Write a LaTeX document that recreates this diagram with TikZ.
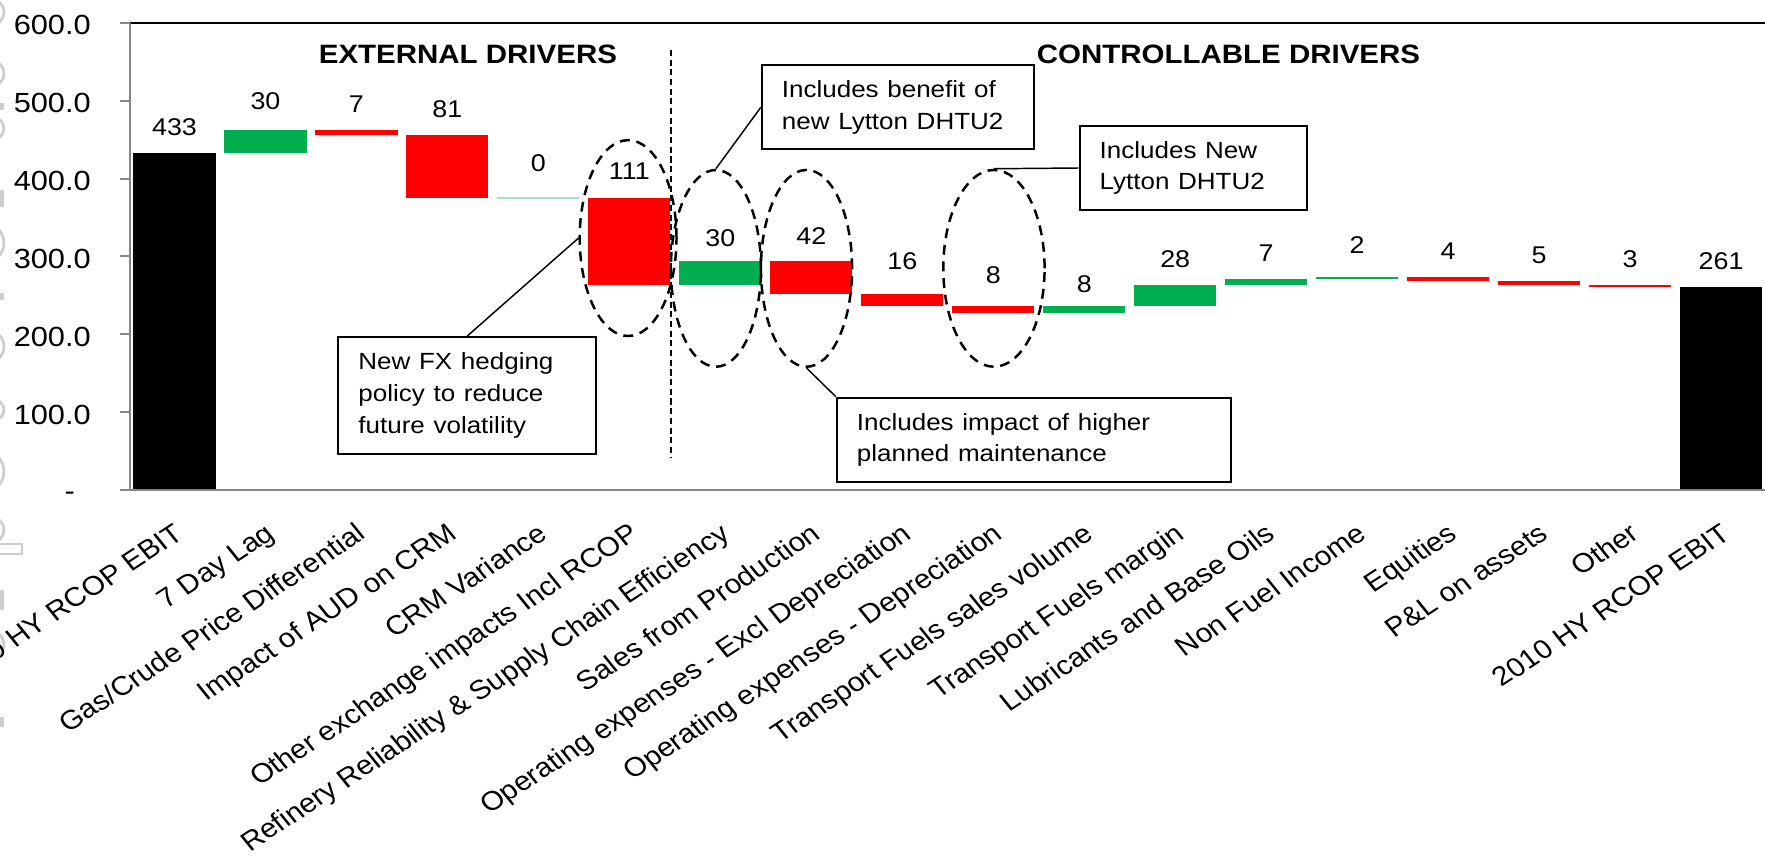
\documentclass[tikz,border=0pt]{standalone}
\usepackage{fontspec}
\setmainfont{Liberation Sans}
\usetikzlibrary{shapes.geometric}
\definecolor{xlgreen}{RGB}{0,176,80}
\definecolor{xlred}{RGB}{255,0,0}
\definecolor{axisgray}{RGB}{134,134,134}
\definecolor{wmgray}{RGB}{205,205,205}
\tikzset{
  ticklab/.style={font=\fontsize{12.3}{14}\selectfont, inner sep=0pt, xscale=1.11, anchor=base east},
  datalab/.style={font=\fontsize{10.75}{13}\selectfont, inner sep=0pt, xscale=1.11, anchor=base},
  catlab/.style={font=\fontsize{11.9}{14}\selectfont, inner sep=0pt, anchor=base east, xscale=1.11, rotate=36},
  headlab/.style={font=\bfseries\fontsize{11.8}{14}\selectfont, inner sep=0pt, xscale=1.11, anchor=base west},
  notebox/.style={draw, line width=0.9pt, align=left, inner xsep=8pt, inner ysep=0pt,
     font=\fontsize{10.4}{14.1}\selectfont, xscale=1.11, anchor=north west},
  hl/.style={draw, ellipse, inner sep=0pt, line width=1.1pt, dash pattern=on 4.4pt off 3pt},
  conn/.style={draw, line width=0.65pt},
  wm/.style={draw=wmgray, line width=1.2pt},
}
\begin{document}
\begin{tikzpicture}[x=0.5pt,y=-0.5pt]
\useasboundingbox (0,0) rectangle (1568,759.6);

% faint watermark fragments at the left edge
\foreach \cy/\r in {10.7/12, 65.3/12, 114.2/10, 215.9/17.8, 307.8/14.7, 364/9, 418.9/19, 470.8/11.5, 573/13}
  \draw[wm] ({3.5-\r},\cy) circle[radius=\r*0.5pt];
\foreach \ya/\yb in {91.5/97.7, 168.8/183.9, 260.3/266.5, 524/542, 637/646}
  \fill[wmgray] (0,\ya) rectangle (3.5,\yb);
\draw[wm] (-2,483.3) rectangle (19.5,492.1);

% bars
\foreach \i/\a/\b/\c in {0/0/433/black, 1/433/463/xlgreen, 2/456/463/xlred, 3/375/456/xlred,
   5/264/375/xlred, 6/264/294/xlgreen, 7/252/294/xlred, 8/236/252/xlred, 9/228/236/xlred,
   10/228/236/xlgreen, 11/236/264/xlgreen, 12/264/271/xlgreen, 13/271/273/xlgreen,
   14/269/273/xlred, 15/264/269/xlred, 16/261/264/xlred, 17/0/261/black}
  \fill[\c] ({155+80.82*\i-36.5}, {435.3-0.6915*\a}) rectangle ({155+80.82*\i+36.5}, {435.3-0.6915*\b});
\draw[xlgreen!35!white, line width=0.6pt] ({155+80.82*4-36.5},176) -- ({155+80.82*4+36.5},176);

% axes
\draw[black, line width=1.1pt] (115.6,20.4) -- (1568,20.4);
\draw[axisgray, line width=0.9pt] (115.6,20.4) -- (115.6,435.3);
\foreach \v in {1,...,6}
  \draw[axisgray, line width=0.9pt] (106.4,{435.3-69.15*\v}) -- (115.6,{435.3-69.15*\v});
\draw[axisgray, line width=1.3pt] (106.4,435.3) -- (1568,435.3);

% tick labels
\foreach \v/\lab in {1/100.0, 2/200.0, 3/300.0, 4/400.0, 5/500.0, 6/600.0}
  \node[ticklab] (t\v) at (81,{435.3-69.15*\v+10.6}) {\lab};
\node[ticklab, anchor=base] (t0) at (62,445) {-};

% headings
\node[headlab] (hext) at (282.8,56.3) {EXTERNAL DRIVERS};
\node[headlab] (hctl) at (920.6,56.3) {CONTROLLABLE DRIVERS};

% divider
\draw[line width=0.6pt, dash pattern=on 2.7pt off 1.6pt] (596.2,44.4) -- (596.2,405.7);

% data labels
\foreach \i/\v/\yc in {0/433/113, 1/30/89.6, 2/7/91.8, 3/81/96.6, 4/0/144.4, 5/111/151.9,
   6/30/211, 7/42/209.5, 8/16/231.7, 9/8/244.6, 10/8/252.1, 11/28/229.6, 12/7/224.3,
   13/2/217.6, 14/4/222.7, 15/5/226.5, 16/3/229.5, 17/261/231.6}
  \node[datalab] (v\i) at ({155+80.82*\i},{\yc+7.7}) {\v};

% category labels
\node[catlab] (c0) at ({155+80.82*0+10},477.2) {2009 HY RCOP EBIT};
\node[catlab] (c1) at ({155+80.82*1+10},477.2) {7 Day Lag};
\node[catlab] (c2) at ({155+80.82*2+10},477.2) {Gas/Crude Price Differential};
\node[catlab] (c3) at ({155+80.82*3+10},477.2) {Impact of AUD on CRM};
\node[catlab] (c4) at ({155+80.82*4+10},477.2) {CRM Variance};
\node[catlab] (c5) at ({155+80.82*5+10},477.2) {Other exchange impacts Incl RCOP};
\node[catlab] (c6) at ({155+80.82*6+10},477.2) {Refinery Reliability \& Supply Chain Efficiency};
\node[catlab] (c7) at ({155+80.82*7+10},477.2) {Sales from Production};
\node[catlab] (c8) at ({155+80.82*8+10},477.2) {Operating expenses - Excl Depreciation};
\node[catlab] (c9) at ({155+80.82*9+10},477.2) {Operating expenses - Depreciation};
\node[catlab] (c10) at ({155+80.82*10+10},477.2) {Transport Fuels sales volume};
\node[catlab] (c11) at ({155+80.82*11+10},477.2) {Transport Fuels margin};
\node[catlab] (c12) at ({155+80.82*12+10},477.2) {Lubricants and Base Oils};
\node[catlab] (c13) at ({155+80.82*13+10},477.2) {Non Fuel Income};
\node[catlab] (c14) at ({155+80.82*14+10},477.2) {Equities};
\node[catlab] (c15) at ({155+80.82*15+10},477.2) {P\&L on assets};
\node[catlab] (c16) at ({155+80.82*16+10},477.2) {Other};
\node[catlab] (c17) at ({155+80.82*17+10},477.2) {2010 HY RCOP EBIT};

% highlight ellipses
\node[hl, minimum width=43pt, minimum height=87pt] (E1) at (558,211.5) {};
\node[hl, minimum width=40pt, minimum height=87.4pt] (E2) at (636,238.4) {};
\node[hl, minimum width=40.5pt, minimum height=87.4pt] (E3) at (716.5,238.4) {};
\node[hl, minimum width=45pt, minimum height=87.4pt] (E4) at (883,238.4) {};

% callout boxes
\node[notebox, text width=87.1pt, minimum height=52.1pt] (B1) at (299.7,298.5)
  {New FX hedging\\policy to reduce\\future volatility};
\node[notebox, text width=92.9pt, minimum height=37.35pt] (B2) at (675.9,57.1)
  {Includes benefit of\\new Lytton DHTU2};
\node[notebox, text width=141.6pt, minimum height=37.45pt] (B3) at (742.5,352.4)
  {Includes impact of higher\\planned maintenance};
\node[notebox, text width=74.8pt, minimum height=37.35pt] (B4) at (958.2,111)
  {Includes New\\Lytton DHTU2};

% connectors
\draw[conn] (B1.north) -- (E1.west);
\draw[conn] (B2.west) -- (E2.north);
\draw[conn] (B3.north west) -- (E3.south);
\draw[conn] (B4.west) -- (E4.north);
\end{tikzpicture}
\end{document}
